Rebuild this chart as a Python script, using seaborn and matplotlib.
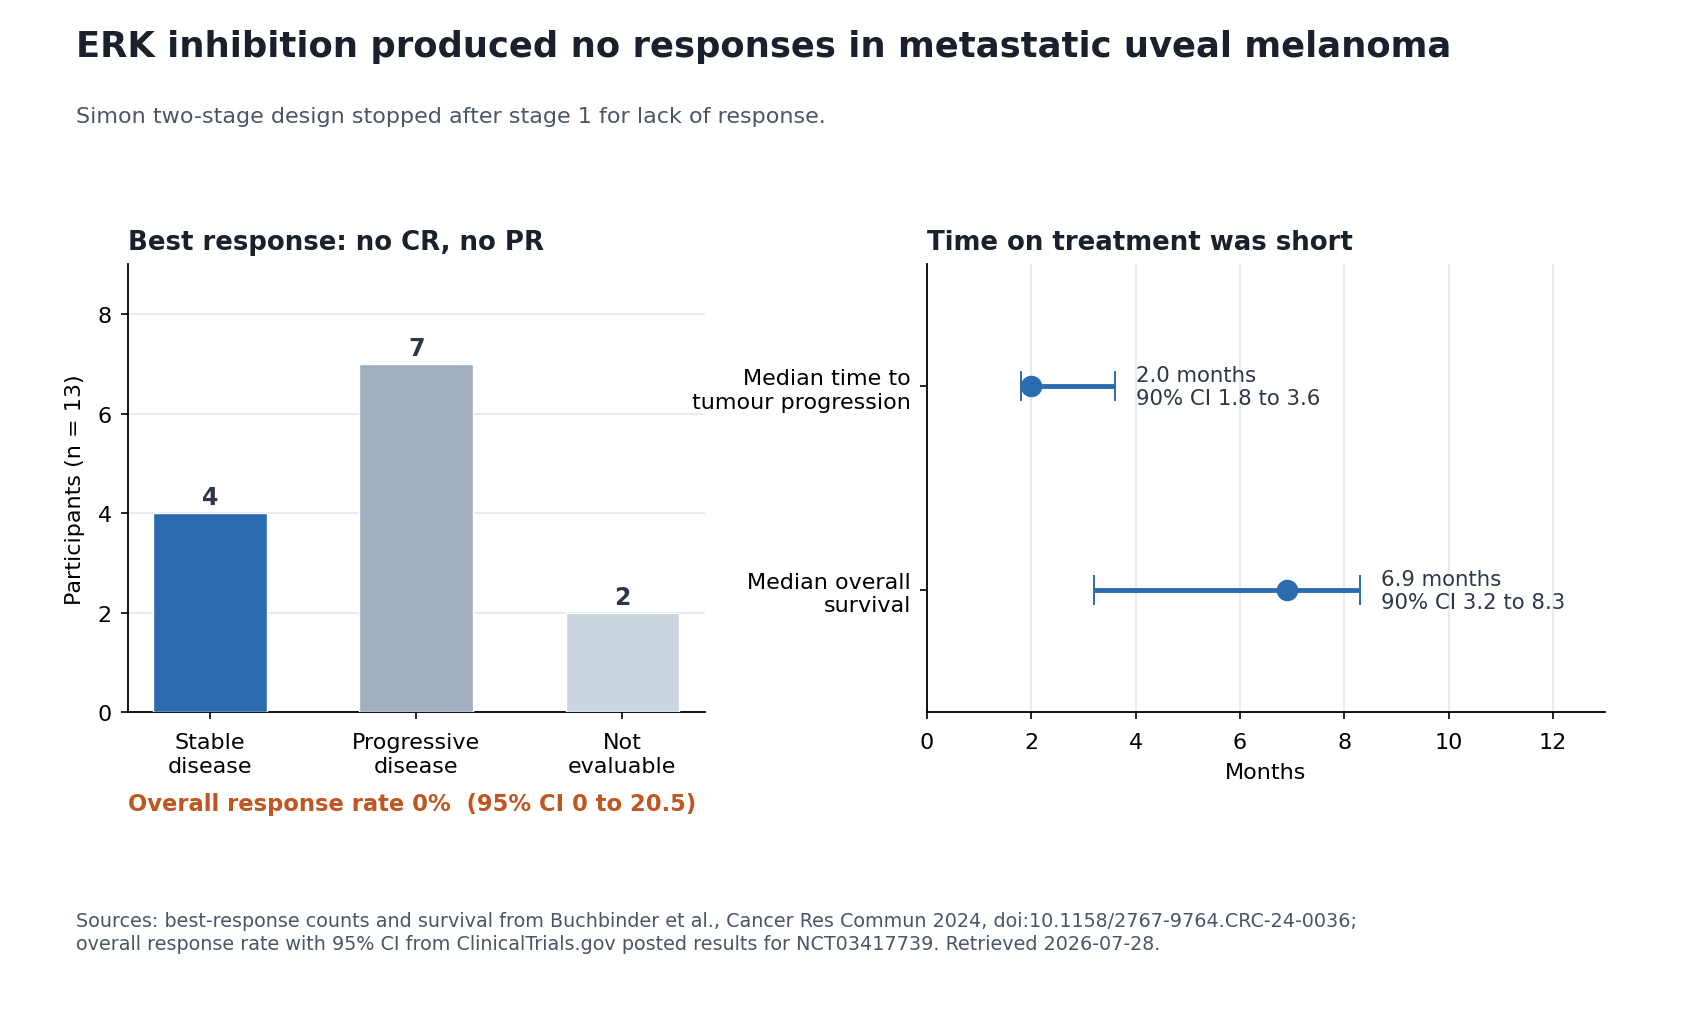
import matplotlib
matplotlib.use("Agg")
import matplotlib.pyplot as plt
import seaborn as sns
import pandas as pd
import numpy as np

# ---- data ----
response_categories = ["Stable\ndisease", "Progressive\ndisease", "Not\nevaluable"]
response_counts = [4, 7, 2]
bar_colors = ["#2b6cb0", "#a0aec0", "#cbd5e0"]

endpoint_labels = ["Median time to\ntumour progression", "Median overall\nsurvival"]
endpoint_median = [2.0, 6.9]
endpoint_ci_low = [1.8, 3.2]
endpoint_ci_high = [3.6, 8.3]
endpoint_text = ["2.0 months\n90% CI 1.8 to 3.6", "6.9 months\n90% CI 3.2 to 8.3"]

month_ticks = [0, 2, 4, 6, 8, 10, 12]
count_ticks = [0, 2, 4, 6, 8]

title = "ERK inhibition produced no responses in metastatic uveal melanoma"
subtitle = "Simon two-stage design stopped after stage 1 for lack of response."
left_title = "Best response: no CR, no PR"
right_title = "Time on treatment was short"
orr_text = "Overall response rate 0%  (95% CI 0 to 20.5)"
footer = ("Sources: best-response counts and survival from Buchbinder et al., Cancer Res Commun 2024, "
          "doi:10.1158/2767-9764.CRC-24-0036;\n"
          "overall response rate with 95% CI from ClinicalTrials.gov posted results for NCT03417739. "
          "Retrieved 2026-07-28.")

sns.set_theme(style="white")
plt.rcParams["font.family"] = ["DejaVu Sans"]

DARK = "#1a202c"
MUTED = "#4a5568"
GRID = "#e2e8f0"
BLUE = "#2b6cb0"
ORANGE = "#c05621"
TICK = 16

fig = plt.figure(figsize=(17, 10.2), dpi=100)
ax1 = fig.add_axes([0.0751, 0.3007, 0.3394, 0.4392])
ax2 = fig.add_axes([0.5453, 0.3007, 0.3988, 0.4392])

# ---- left: bar chart ----
df_bar = pd.DataFrame({"category": response_categories, "count": response_counts})
sns.barplot(data=df_bar, x="category", y="count", hue="category",
            palette=bar_colors, width=0.55, ax=ax1, legend=False,
            saturation=1, zorder=3)
for cont in ax1.containers:
    ax1.bar_label(cont, padding=3, fontsize=17, fontweight="bold", color="#2d3748")
ax1.set_ylim(0, 9)
ax1.set_xlim(-0.4, 2.4)
ax1.set_yticks(count_ticks)
ax1.yaxis.grid(True, color=GRID, lw=1.2, zorder=0)
ax1.set_axisbelow(True)
ax1.set_xlabel("")
ax1.set_ylabel("Participants (n = 13)", fontsize=16, color="black", labelpad=9)
ax1.set_title(left_title, loc="left", fontsize=18.7, fontweight="bold", color=DARK, pad=11)
ax1.text(0.0, -0.2174, orr_text, transform=ax1.transAxes, fontsize=16.25, fontweight="bold",
         color=ORANGE, ha="left", va="baseline")

# ---- right: dot with CI ----
ypos = np.arange(len(endpoint_labels))
med = np.array(endpoint_median)
lo = np.array(endpoint_ci_low)
hi = np.array(endpoint_ci_high)
ax2.errorbar(med, ypos, xerr=[med - lo, hi - med], fmt="none", ecolor=BLUE,
             elinewidth=3.5, capsize=11, capthick=1.4, zorder=3)
df_pt = pd.DataFrame({"median": endpoint_median, "y": ypos})
sns.scatterplot(data=df_pt, x="median", y="y", ax=ax2, s=15.5**2, color=BLUE,
                edgecolor=BLUE, linewidth=0, zorder=4)
for y, h, t in zip(ypos, hi, endpoint_text):
    ax2.annotate(t, xy=(h, y), xytext=(15, 0), textcoords="offset points",
                 fontsize=15.3, color="#2d3748", va="center", ha="left")
ax2.set_xlim(0, 13)
ax2.set_ylim(1.6, -0.6)
ax2.set_xticks(month_ticks)
ax2.set_yticks(ypos)
ax2.set_yticklabels(endpoint_labels, ha="right")
ax2.xaxis.grid(True, color=GRID, lw=1.2, zorder=0)
ax2.set_axisbelow(True)
ax2.set_xlabel("Months", fontsize=16, color="black", labelpad=7)
ax2.set_ylabel("")
ax2.set_title(right_title, loc="left", fontsize=18.7, fontweight="bold", color=DARK, pad=11)

for ax in (ax1, ax2):
    sns.despine(ax=ax)
    for s in ("left", "bottom"):
        ax.spines[s].set_color("black")
        ax.spines[s].set_linewidth(1.3)
    ax.tick_params(axis="both", labelsize=TICK, colors="black", length=5, width=1.2,
                   left=True, bottom=True)
    ax.tick_params(axis="x", pad=9.5)
    ax.tick_params(axis="y", pad=6.5)

# ---- figure text ----
fig.text(0.0446, 0.9444, title, fontsize=25.5, fontweight="bold", color=DARK, va="baseline")
fig.text(0.0446, 0.879, subtitle, fontsize=16, color=MUTED, va="baseline")
fig.text(0.0446, 0.0686, footer, fontsize=13.75, color=MUTED, va="baseline", linespacing=1.3)

fig.savefig("out.png", dpi=100)
